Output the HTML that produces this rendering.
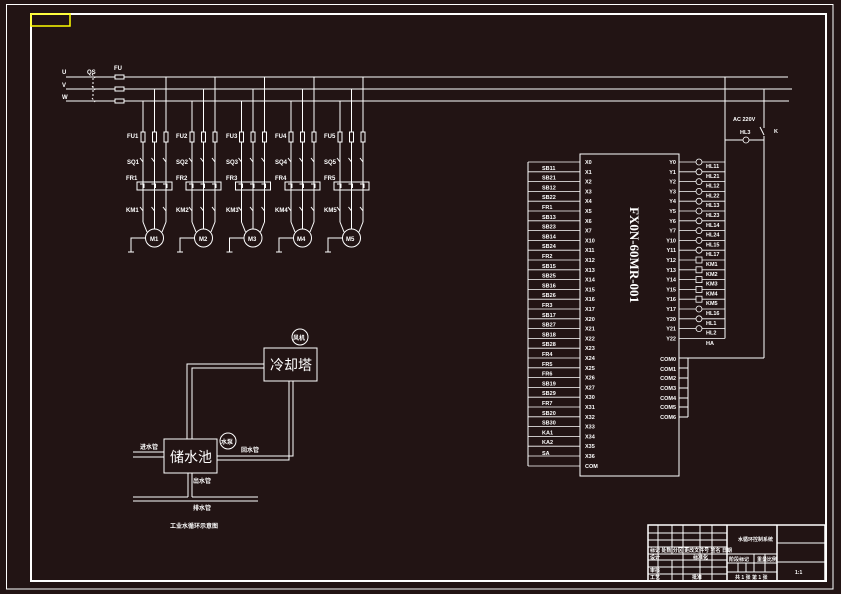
<!DOCTYPE html>
<html><head><meta charset="utf-8"><style>
html,body{margin:0;padding:0;background:#221414;}
svg{display:block}
text{font-family:"Liberation Sans","Noto Sans CJK SC",sans-serif;fill:#fff;font-weight:bold}
.s{font-size:6px}
</style></head><body>
<svg width="841" height="594" viewBox="0 0 841 594" xmlns="http://www.w3.org/2000/svg">
<rect width="841" height="594" fill="#221414"/>
<g fill="none" stroke="#fff">
<rect x="6.5" y="4.5" width="826.5" height="584.5" stroke-width="1"/>
<rect x="31" y="14" width="795" height="567" stroke-width="2"/>
</g>
<rect x="31" y="14" width="39" height="12" fill="none" stroke="#ff0" stroke-width="1.5"/>

<defs>
<g id="grp" fill="none" stroke="#fff" stroke-width="1">
<line x1="0" y1="101" x2="0" y2="222"/>
<line x1="11.5" y1="89" x2="11.5" y2="229"/>
<line x1="23" y1="77" x2="23" y2="222"/>
<line x1="0" y1="222" x2="4" y2="232"/>
<line x1="23" y1="222" x2="19" y2="232"/>
<rect x="-2" y="132" width="4" height="10" fill="#221414"/>
<rect x="9.5" y="132" width="4" height="10" fill="#221414"/>
<rect x="21" y="132" width="4" height="10" fill="#221414"/>
<rect x="-6" y="182" width="35" height="8"/>
<path d="M-3 184h4v4M8.5 184h4v4M20 184h4v4"/>
<path d="M-3 158l3 4M8.5 158l3 4M20 158l3 4M-3 207l3 4M8.5 207l3 4M20 207l3 4"/>
<circle cx="11.5" cy="238" r="9" fill="#221414"/>
<path d="M2.5 238H-12V252M-15 252h6"/>
</g>
</defs>
<g fill="none" stroke="#fff" stroke-width="1">
<line x1="66" y1="77" x2="788" y2="77"/>
<line x1="66" y1="89" x2="792" y2="89"/>
<line x1="66" y1="101" x2="789" y2="101"/>
<path d="M92 74l3 4M92 86l3 4M92 98l3 4M93 78v20" stroke-dasharray="2,2"/>
<rect x="115" y="75" width="9" height="4" fill="#221414"/>
<rect x="115" y="87" width="9" height="4" fill="#221414"/>
<rect x="115" y="99" width="9" height="4" fill="#221414"/>
</g>
<use href="#grp" x="143"/>
<use href="#grp" x="192"/>
<use href="#grp" x="241.5"/>
<use href="#grp" x="291"/>
<use href="#grp" x="340"/>
<g class="s">
<text x="62" y="74">U</text><text x="62" y="87">V</text><text x="62" y="99">W</text>
<text x="87" y="74">QS</text><text x="114" y="70">FU</text>
<text x="127" y="138">FU1</text><text x="176" y="138">FU2</text><text x="226" y="138">FU3</text><text x="275" y="138">FU4</text><text x="324" y="138">FU5</text>
<text x="127" y="164">SQ1</text><text x="176" y="164">SQ2</text><text x="226" y="164">SQ3</text><text x="275" y="164">SQ4</text><text x="324" y="164">SQ5</text>
<text x="126" y="180">FR1</text><text x="176" y="180">FR2</text><text x="226" y="180">FR3</text><text x="275" y="180">FR4</text><text x="324" y="180">FR5</text>
<text x="126" y="212">KM1</text><text x="176" y="212">KM2</text><text x="226" y="212">KM3</text><text x="275" y="212">KM4</text><text x="324" y="212">KM5</text>
<text x="150" y="241">M1</text><text x="199" y="241">M2</text><text x="248" y="241">M3</text><text x="297" y="241">M4</text><text x="346" y="241">M5</text>
</g>

<!-- PLC -->
<g fill="none" stroke="#fff" stroke-width="1">
<rect x="580" y="154" width="99" height="322"/>
<line x1="528" y1="162" x2="528" y2="466"/>
<path d="M528 162H580M528 171.8H580M528 181.6H580M528 191.4H580M528 201.2H580M528 211H580M528 220.8H580M528 230.6H580M528 240.4H580M528 250.2H580M528 260H580M528 269.8H580M528 279.6H580M528 289.4H580M528 299.2H580M528 309H580M528 318.8H580M528 328.6H580M528 338.4H580M528 348.2H580M528 358H580M528 367.8H580M528 377.6H580M528 387.4H580M528 397.2H580M528 407H580M528 416.8H580M528 426.6H580M528 436.4H580M528 446.2H580M528 456H580M528 466H580" stroke-width="0.8"/>
<path d="M679 162H725M679 171.8H725M679 181.6H725M679 191.4H725M679 201.2H725M679 211H725M679 220.8H725M679 230.6H725M679 240.4H725M679 250.2H725M679 260H725M679 269.8H725M679 279.6H725M679 289.4H725M679 299.2H725M679 309H725M679 318.8H725M679 328.6H725M679 338.4H725" stroke-width="0.8"/>
<line x1="725" y1="77" x2="725" y2="338.4"/>
<line x1="764" y1="89" x2="764" y2="128"/>
<line x1="764" y1="136" x2="764" y2="358"/>
<path d="M760 127l4 8"/>
<line x1="725" y1="140" x2="764" y2="140"/>
<line x1="679" y1="358" x2="764" y2="358"/>
<line x1="688" y1="358" x2="688" y2="417"/>
<path d="M679 368H688M679 378H688M679 388H688M679 398H688M679 407H688M679 417H688"/>
</g>
<g fill="#221414" stroke="#fff" stroke-width="0.8">
<circle cx="699" cy="162" r="3"/><circle cx="699" cy="171.8" r="3"/><circle cx="699" cy="181.6" r="3"/><circle cx="699" cy="191.4" r="3"/><circle cx="699" cy="201.2" r="3"/><circle cx="699" cy="211" r="3"/><circle cx="699" cy="220.8" r="3"/><circle cx="699" cy="230.6" r="3"/><circle cx="699" cy="240.4" r="3"/><circle cx="699" cy="250.2" r="3"/>
<rect x="696" y="257" width="6" height="6"/><rect x="696" y="266.8" width="6" height="6"/><rect x="696" y="276.6" width="6" height="6"/><rect x="696" y="286.4" width="6" height="6"/><rect x="696" y="296.2" width="6" height="6"/>
<circle cx="699" cy="309" r="3"/><circle cx="699" cy="318.8" r="3"/><circle cx="699" cy="328.6" r="3"/>
<circle cx="746" cy="140" r="3"/>
</g>
<text x="630" y="207" transform="rotate(90 630 207)" style="font-size:13px;font-weight:bold;font-family:'Liberation Serif',serif">FX0N-60MR-001</text>
<g class="s" style="font-size:5.5px">
<text x="585" y="164">X0</text><text x="585" y="173.8">X1</text><text x="585" y="183.6">X2</text><text x="585" y="193.4">X3</text><text x="585" y="203.2">X4</text><text x="585" y="213">X5</text><text x="585" y="222.8">X6</text><text x="585" y="232.6">X7</text><text x="585" y="242.4">X10</text><text x="585" y="252.2">X11</text><text x="585" y="262">X12</text><text x="585" y="271.8">X13</text><text x="585" y="281.6">X14</text><text x="585" y="291.4">X15</text><text x="585" y="301.2">X16</text><text x="585" y="311">X17</text><text x="585" y="320.8">X20</text><text x="585" y="330.6">X21</text><text x="585" y="340.4">X22</text><text x="585" y="350.2">X23</text><text x="585" y="360">X24</text><text x="585" y="369.8">X25</text><text x="585" y="379.6">X26</text><text x="585" y="389.4">X27</text><text x="585" y="399.2">X30</text><text x="585" y="409">X31</text><text x="585" y="418.8">X32</text><text x="585" y="428.6">X33</text><text x="585" y="438.4">X34</text><text x="585" y="448.2">X35</text><text x="585" y="458">X36</text><text x="585" y="468">COM</text>
<text x="542" y="169.8">SB11</text><text x="542" y="179.6">SB21</text><text x="542" y="189.4">SB12</text><text x="542" y="199.2">SB22</text><text x="542" y="209">FR1</text><text x="542" y="218.8">SB13</text><text x="542" y="228.6">SB23</text><text x="542" y="238.4">SB14</text><text x="542" y="248.2">SB24</text><text x="542" y="258">FR2</text><text x="542" y="267.8">SB15</text><text x="542" y="277.6">SB25</text><text x="542" y="287.4">SB16</text><text x="542" y="297.2">SB26</text><text x="542" y="307">FR3</text><text x="542" y="316.8">SB17</text><text x="542" y="326.6">SB27</text><text x="542" y="336.4">SB18</text><text x="542" y="346.2">SB28</text><text x="542" y="356">FR4</text><text x="542" y="365.8">FR5</text><text x="542" y="375.6">FR6</text><text x="542" y="385.4">SB19</text><text x="542" y="395.2">SB29</text><text x="542" y="405">FR7</text><text x="542" y="414.8">SB20</text><text x="542" y="424.6">SB30</text><text x="542" y="434.4">KA1</text><text x="542" y="444.2">KA2</text><text x="542" y="455">SA</text>
<g text-anchor="end">
<text x="676" y="164">Y0</text><text x="676" y="173.8">Y1</text><text x="676" y="183.6">Y2</text><text x="676" y="193.4">Y3</text><text x="676" y="203.2">Y4</text><text x="676" y="213">Y5</text><text x="676" y="222.8">Y6</text><text x="676" y="232.6">Y7</text><text x="676" y="242.4">Y10</text><text x="676" y="252.2">Y11</text><text x="676" y="262">Y12</text><text x="676" y="271.8">Y13</text><text x="676" y="281.6">Y14</text><text x="676" y="291.4">Y15</text><text x="676" y="301.2">Y16</text><text x="676" y="311">Y17</text><text x="676" y="320.8">Y20</text><text x="676" y="330.6">Y21</text><text x="676" y="340.4">Y22</text>
<text x="676" y="361">COM0</text><text x="676" y="371">COM1</text><text x="676" y="380">COM2</text><text x="676" y="390">COM3</text><text x="676" y="400">COM4</text><text x="676" y="409">COM5</text><text x="676" y="419">COM6</text>
</g>
<text x="706" y="168">HL11</text><text x="706" y="177.8">HL21</text><text x="706" y="187.6">HL12</text><text x="706" y="197.4">HL22</text><text x="706" y="207.2">HL13</text><text x="706" y="217">HL23</text><text x="706" y="226.8">HL14</text><text x="706" y="236.6">HL24</text><text x="706" y="246.4">HL15</text><text x="706" y="256.2">HL17</text><text x="706" y="266">KM1</text><text x="706" y="275.8">KM2</text><text x="706" y="285.6">KM3</text><text x="706" y="295.4">KM4</text><text x="706" y="305.2">KM5</text><text x="706" y="315">HL16</text><text x="706" y="324.8">HL1</text><text x="706" y="334.6">HL2</text><text x="706" y="345">HA</text>
<text x="733" y="121">AC 220V</text><text x="740" y="134">HL3</text><text x="774" y="133">K</text>
</g>

<!-- water diagram -->
<g fill="none" stroke="#fff" stroke-width="1">
<rect x="264" y="348" width="53" height="33"/>
<rect x="164" y="439" width="53" height="34"/>
<circle cx="300" cy="337" r="8"/>
<circle cx="228" cy="441" r="8"/>
<path d="M187 439V364H264M192 439V368H264"/>
<path d="M289 381V460H217M293 381V456H217"/>
<path d="M133 452H164M133 457H164"/>
<path d="M188 473V497M192 473V497"/>
<path d="M133 501H258M133 497H188M192 497H258"/>
</g>
<text x="270" y="370" style="font-size:14px;font-weight:normal">冷却塔</text>
<text x="170" y="462" style="font-size:14px;font-weight:normal">储水池</text>
<g style="font-size:6px">
<text x="293" y="340">风机</text><text x="221" y="444">水泵</text>
<text x="140" y="449">进水管</text><text x="241" y="452">回水管</text>
<text x="193" y="483">出水管</text><text x="193" y="510">排水管</text>
<text x="170" y="528">工业水循环示意图</text>
</g>

<!-- title block -->
<g fill="none" stroke="#fff" stroke-width="1">
<rect x="648" y="525" width="177" height="56" stroke-width="1.5"/>
<line x1="727" y1="525" x2="727" y2="581" stroke-width="1.5"/>
<line x1="777" y1="525" x2="777" y2="581" stroke-width="1.5"/>
<path d="M648 533H727M648 540H727M648 547H727M648 554H727M648 560H727M648 567H727M648 574H727"/>
<path d="M658 525V581M672 525V554M683 525V581M700 525V581M712 525V581M672 560V581"/>
<path d="M727 554H777M727 563H777M727 572H777M777 543H825M777 562H825"/>
<path d="M754 554V572M765 554V563M738 563V572M746 563V572M754 563V572M765 563V572"/>
</g>
<g style="font-size:5px">
<text x="738" y="541">水循环控制系统</text>
<text x="650" y="552">标记 处数 分区 更改文件号 签名 日期</text>
<text x="650" y="559">设计</text><text x="693" y="559">标准化</text>
<text x="650" y="572">审核</text><text x="650" y="579">工艺</text><text x="692" y="579">批准</text>
<text x="729" y="561">阶段标记</text><text x="757" y="561">重量</text><text x="767" y="561">比例</text>
<text x="735" y="579">共 1 张 第 1 张</text>
<text x="795" y="574">1:1</text>
</g>
</svg>
</body></html>
